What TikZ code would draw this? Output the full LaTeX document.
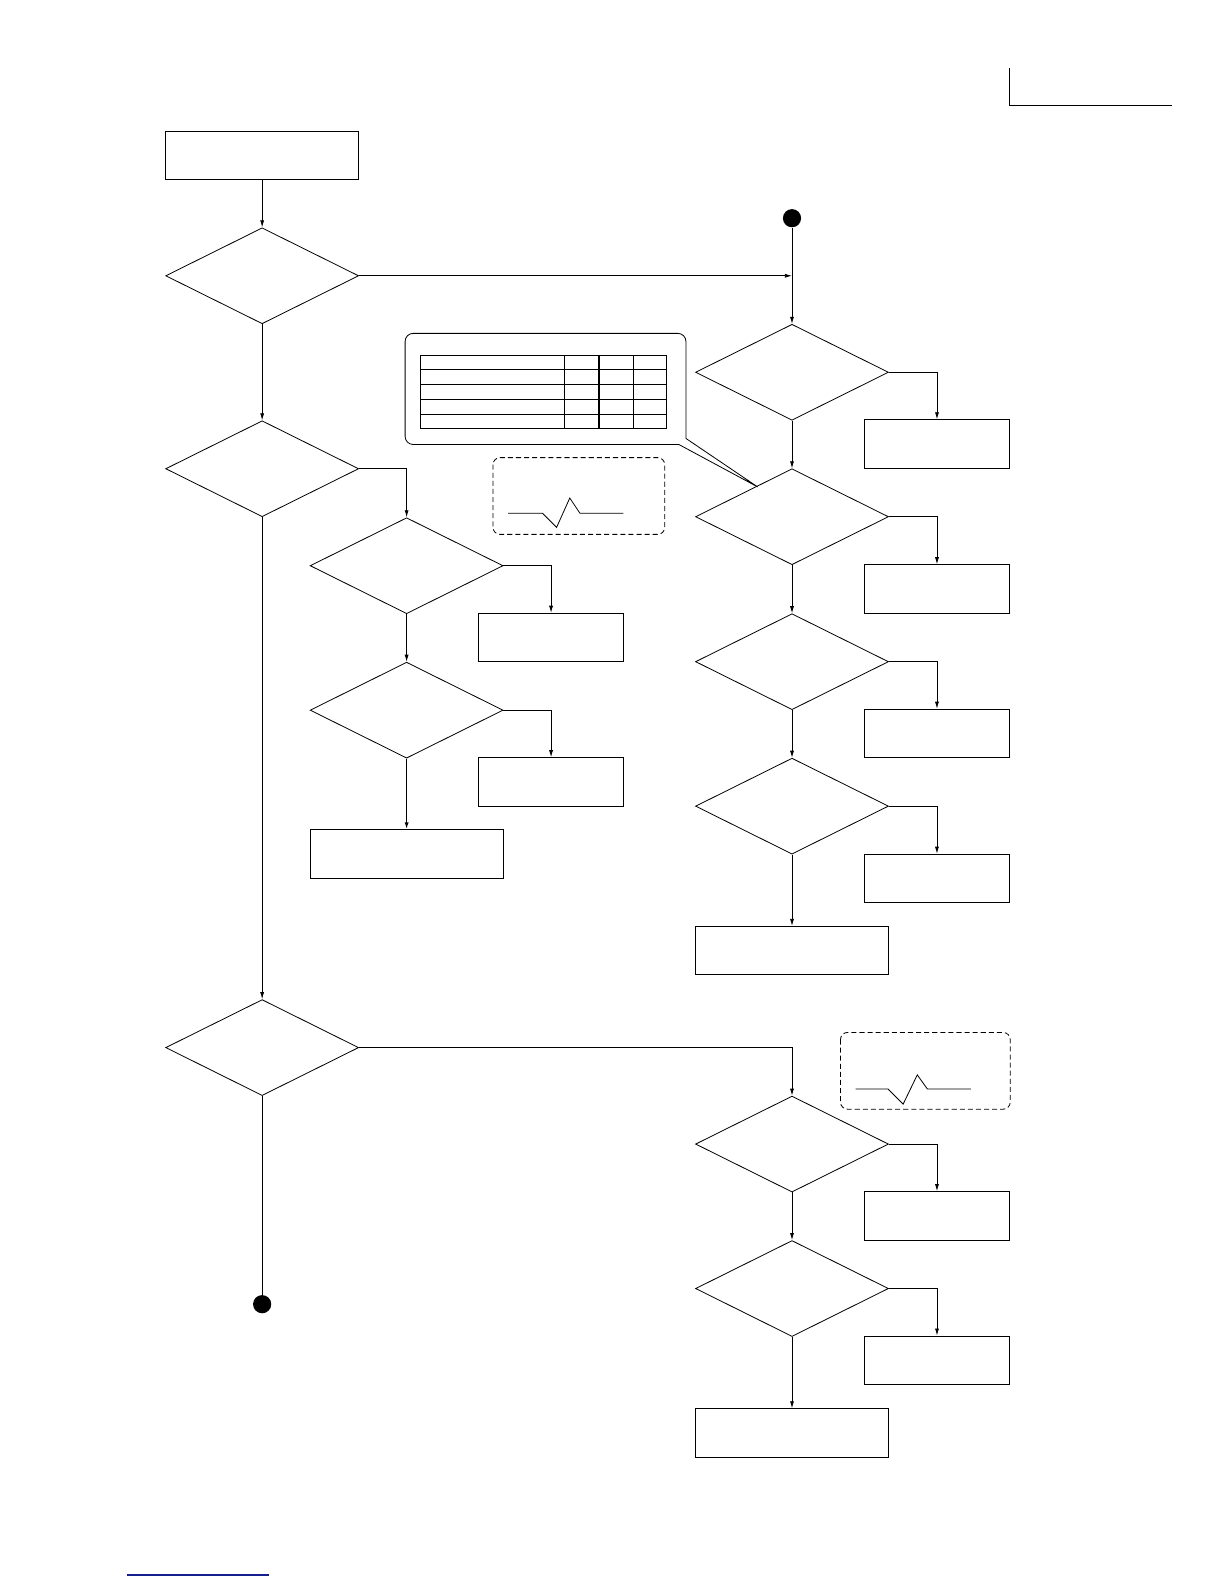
\documentclass[tikz,border=0pt]{standalone}
\usetikzlibrary{shapes.geometric,arrows.meta}
\begin{document}
\begin{tikzpicture}[x=1pt,y=-1pt,line width=0.8pt,
  dia/.style={draw,diamond,inner sep=0pt,minimum width=191pt,minimum height=95pt},
  bigbox/.style={draw,rectangle,inner sep=0pt,minimum width=191pt,minimum height=48pt},
  smallbox/.style={draw,rectangle,inner sep=0pt,minimum width=143pt,minimum height=48pt},
  arr/.style={-{Latex[length=7pt,width=4pt]}},
  dot/.style={circle,fill=black,inner sep=0pt,minimum size=18pt},
  dashbox/.style={draw,dash pattern=on 5pt off 3pt,rounded corners=7pt}]
\useasboundingbox (0,0) rectangle (1212,1568);
% corner mark
\draw[line width=1.1pt] (999,67) -- (999,104) -- (1160,104);
% left column
\node[bigbox] (start) at (259.5,154) {};
\node[dia] (d1) at (259.5,273) {};
\node[dia] (d2) at (259.5,464) {};
\node[dia] (d3) at (402.5,560) {};
\node[smallbox] (b3) at (545.5,631) {};
\node[dia] (d4) at (402.5,703) {};
\node[smallbox] (b4) at (545.5,774) {};
\node[bigbox] (b5) at (402.5,845.5) {};
\node[dia] (d5) at (259.5,1037) {};
\node[dot] (dotL) at (259.5,1291) {};
% right column
\node[dot] (dotR) at (784,216) {};
\node[dia] (r1) at (784,368.5) {};
\node[smallbox] (rb1) at (927.5,439.5) {};
\node[dia] (r2) at (784,511.5) {};
\node[smallbox] (rb2) at (927.5,583) {};
\node[dia] (r3) at (784,655) {};
\node[smallbox] (rb3) at (927.5,726) {};
\node[dia] (r4) at (784,798) {};
\node[smallbox] (rb4) at (927.5,869.5) {};
\node[bigbox] (rb5) at (784,941) {};
\node[dia] (r6) at (784,1132.5) {};
\node[smallbox] (rb6) at (927.5,1203.5) {};
\node[dia] (r7) at (784,1275.5) {};
\node[smallbox] (rb7) at (927.5,1346.5) {};
\node[bigbox] (rb8) at (784,1418.5) {};
% connectors left
\draw[arr] (start.south) -- (d1.north);
\draw[arr] (d1.east) -- (d1.east -| dotR);
\draw[arr] (d1.south) -- (d2.north);
\draw[arr] (d2.east) -| (d3.north);
\draw[arr] (d3.east) -| (b3.north);
\draw[arr] (d3.south) -- (d4.north);
\draw[arr] (d4.east) -| (b4.north);
\draw[arr,line width=1.4pt] (d4.south) -- (b5.north);
\draw[arr] (d2.south) -- (d5.north);
\draw (d5.south) -- (dotL);
\draw[arr] (d5.east) -| (r6.north);
% connectors right
\draw[arr] (dotR) -- (r1.north);
\draw[arr] (r1.east) -| (rb1.north);
\draw[arr] (r1.south) -- (r2.north);
\draw[arr] (r2.east) -| (rb2.north);
\draw[arr] (r2.south) -- (r3.north);
\draw[arr] (r3.east) -| (rb3.north);
\draw[arr] (r3.south) -- (r4.north);
\draw[arr] (r4.east) -| (rb4.north);
\draw[arr] (r4.south) -- (rb5.north);
\draw[arr] (r6.east) -| (rb6.north);
\draw[arr] (r6.south) -- (r7.north);
\draw[arr] (r7.east) -| (rb7.north);
\draw[arr] (r7.south) -- (rb8.north);
% callout with table
\draw (750,482) -- (679,434) [rounded corners=8pt] -- (679,330) -- (401,330) -- (401,440) [sharp corners] -- (672,440) -- cycle;
\draw (416,352) rectangle (660,424);
\foreach \yy in {366,381,395,410} \draw (416,\yy) -- (660,\yy);
\draw (559,352) -- (559,424);
\draw[line width=1.4pt] (593,352) -- (593,424);
\draw (627,352) -- (627,424);
% dashed boxes
\draw[dashbox] (488,453) rectangle (658,529);
\draw (503,508) -- (537,508) -- (551,522) -- (564,493) -- (574,508) -- (617,508);
\draw[dashbox] (832,1022) rectangle (1000,1098);
\draw (847,1078) -- (879,1078) -- (894,1093) -- (908,1064) -- (918,1078) -- (961,1078);
% bottom blue line
\draw[line width=1.3pt,color={rgb,255:red,20;green,30;blue,140}] (126,1559) -- (266,1559);
\end{tikzpicture}
\end{document}
